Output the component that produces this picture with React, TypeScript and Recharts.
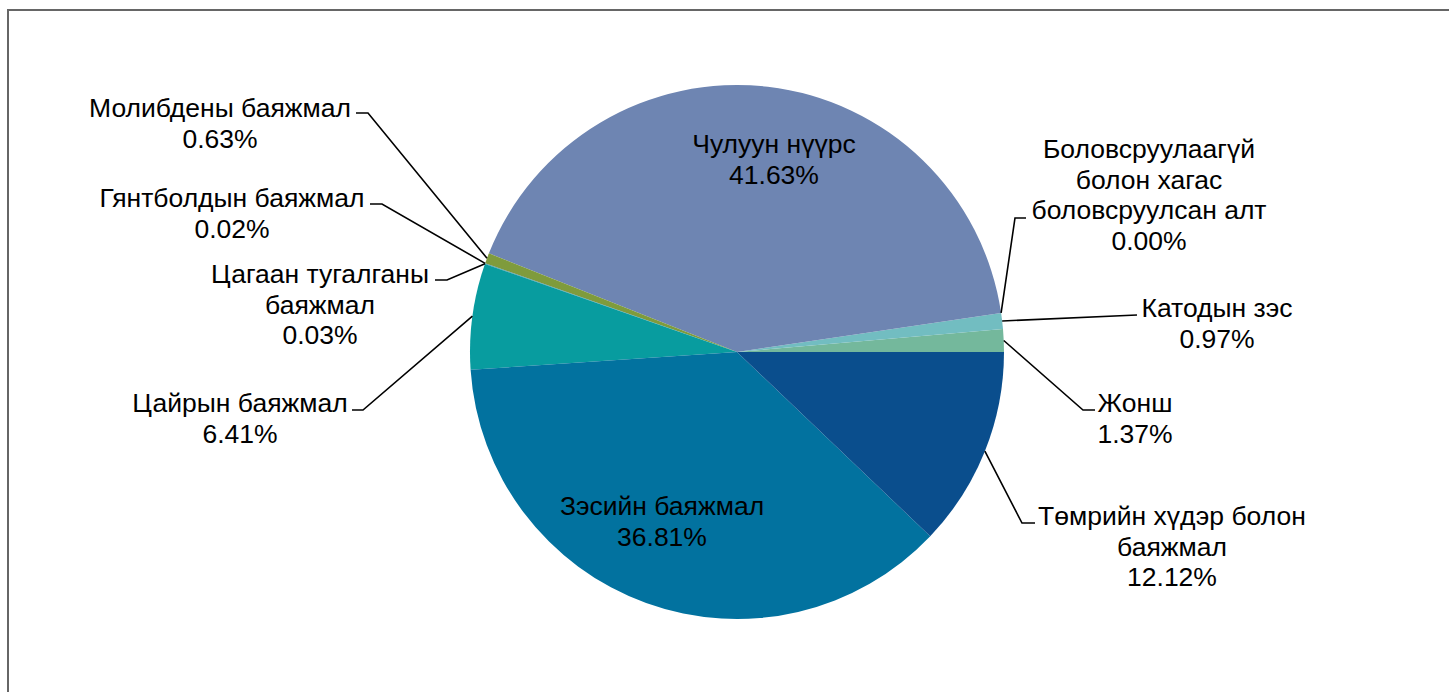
import React from "react";
import { PieChart, Pie, Cell } from "recharts";

const categories = [
  "Жонш",
  "Катодын зэс",
  "Боловсруулаагүй болон хагас боловсруулсан алт",
  "Чулуун нүүрс",
  "Молибдены баяжмал",
  "Гянтболдын баяжмал",
  "Цагаан тугалганы баяжмал",
  "Цайрын баяжмал",
  "Зэсийн баяжмал",
  "Төмрийн хүдэр болон баяжмал",
];
const shares = [1.37, 0.97, 0.0, 41.63, 0.63, 0.02, 0.03, 6.41, 36.81, 12.12];
const colors = [
  "#74b89c",
  "#72bdc1",
  "#9fb3d6",
  "#6e85b2",
  "#7f9b3c",
  "#5a7d9a",
  "#2f8fa0",
  "#089c9f",
  "#02729f",
  "#0a4e8d",
];

const data = categories.map((name, i) => ({ name, value: shares[i] }));

// label layout relative to pie centre reference (CX, CY)
const CX = 737;
const CY = 352;
const R = 267;
const FONT = 26.5;
const LINE_H = 30.5;
type Layout = { tx: number; ty: number; wrap: number; elbow?: [number, number]; endX?: number };
const labelLayout: Layout[] = [
  { tx: 1135, ty: 412, wrap: 19, elbow: [1083, 410], endX: 1095 },
  { tx: 1217, ty: 317, wrap: 19, elbow: [1137, 315], endX: 1137 },
  { tx: 1149, ty: 158, wrap: 17, elbow: [1015, 218], endX: 1026 },
  { tx: 774, ty: 153, wrap: 19 },
  { tx: 220, ty: 117, wrap: 19, elbow: [368, 113], endX: 356 },
  { tx: 232, ty: 207, wrap: 19, elbow: [382, 204], endX: 370 },
  { tx: 320, ty: 283, wrap: 16, elbow: [447, 280], endX: 435 },
  { tx: 240, ty: 412, wrap: 19, elbow: [363, 410], endX: 352 },
  { tx: 662, ty: 515, wrap: 19 },
  { tx: 1172, ty: 525, wrap: 19, elbow: [1022, 523], endX: 1035 },
];

function wrapText(s: string, width: number): string[] {
  const words = s.split(" ");
  const lines: string[] = [];
  let cur = "";
  for (const w of words) {
    if (!cur) cur = w;
    else if ((cur + " " + w).length <= width) cur = cur + " " + w;
    else {
      lines.push(cur);
      cur = w;
    }
  }
  if (cur) lines.push(cur);
  return lines;
}

const RADIAN = Math.PI / 180;

const renderLabel = (props: any) => {
  const { cx, cy, midAngle, outerRadius, index, name, value } = props;
  const lay = labelLayout[index];
  if (!lay) return null;
  const ox = cx - CX;
  const oy = cy - CY;
  const lines = [...wrapText(name, lay.wrap), `${Number(value).toFixed(2)}%`];
  let path: React.ReactNode = null;
  if (lay.elbow) {
    const ax = cx + outerRadius * Math.cos(-midAngle * RADIAN);
    const ay = cy + outerRadius * Math.sin(-midAngle * RADIAN);
    const ex = lay.elbow[0] + ox;
    const ey = lay.elbow[1] + oy;
    const endX = (lay.endX ?? lay.elbow[0]) + ox;
    path = (
      <path
        d={`M${ax},${ay}L${ex},${ey}L${endX},${ey}`}
        stroke="#000"
        strokeWidth={1.6}
        fill="none"
      />
    );
  }
  return (
    <g key={`lbl-${index}`}>
      {path}
      <text
        x={lay.tx + ox}
        y={lay.ty + oy}
        textAnchor="middle"
        fill="#000"
        fontSize={FONT}
        fontFamily="'Liberation Sans', Arial, sans-serif"
      >
        {lines.map((l, i) => (
          <tspan key={i} x={lay.tx + ox} y={lay.ty + oy + i * LINE_H}>
            {l}
          </tspan>
        ))}
      </text>
    </g>
  );
};

export default function App() {
  return (
    <>
      <div
        style={{
          position: "fixed",
          left: 7,
          top: 9,
          width: 1460,
          height: 700,
          borderLeft: "2px solid #666",
          borderTop: "2px solid #666",
          background: "#fff",
        }}
      />
      <div style={{ position: "fixed", left: 0, top: 0, width: 1449, height: 692 }}>
        <PieChart width={1449} height={692} margin={{ top: 0, right: 0, bottom: 0, left: 0 }}>
          <Pie
            data={data}
            dataKey="value"
            nameKey="name"
            cx={CX}
            cy={CY}
            outerRadius={R}
            innerRadius={0}
            startAngle={0}
            endAngle={360}
            stroke="none"
            label={renderLabel}
            labelLine={false}
            isAnimationActive={false}
          >
            {data.map((d, i) => (
              <Cell key={d.name} fill={colors[i]} />
            ))}
          </Pie>
        </PieChart>
      </div>
    </>
  );
}
